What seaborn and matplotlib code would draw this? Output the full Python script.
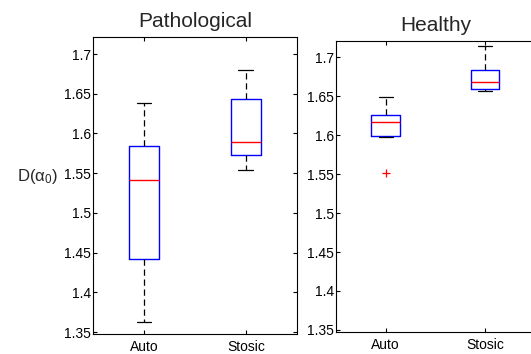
import matplotlib
matplotlib.use("Agg")
import matplotlib.pyplot as plt
import seaborn as sns
import pandas as pd

sns.set_theme(style="white")
plt.rcParams['font.family'] = ['Liberation Sans', 'DejaVu Sans']
plt.rcParams['mathtext.fontset'] = 'custom'
plt.rcParams['mathtext.rm'] = 'Liberation Sans'
plt.rcParams['mathtext.it'] = 'Liberation Sans:italic'

categories = ["Auto", "Stosic"]
panels = ["Pathological", "Healthy"]

# five-number summaries: low whisker, Q1, median, Q3, high whisker
path_auto = [1.3633, 1.4418, 1.5417, 1.5837, 1.6387]
path_stosic = [1.5539, 1.5728, 1.5892, 1.6437, 1.6798]
healthy_auto = [1.5973, 1.5995, 1.6175, 1.6264, 1.6495]
healthy_auto_outliers = [1.552]
healthy_stosic = [1.6564, 1.6589, 1.6683, 1.6833, 1.7141]

yticks = [1.35, 1.4, 1.45, 1.5, 1.55, 1.6, 1.65, 1.7]
ylim = (1.3477, 1.7214)


def sample(summary, outliers=()):
    lo, q1, med, q3, hi = summary
    if not outliers:
        return [lo, q1, med, q3, hi]
    # 9 sorted values -> indices 2, 4, 6 give Q1, median, Q3
    return list(outliers) + [lo, q1, q1, med, q3, q3, hi, hi]


rows = [("Auto", v) for v in sample(path_auto)]
rows += [("Stosic", v) for v in sample(path_stosic)]
df_path = pd.DataFrame(rows, columns=["method", "value"])

rows = [("Auto", v) for v in sample(healthy_auto, healthy_auto_outliers)]
rows += [("Stosic", v) for v in sample(healthy_stosic)]
df_healthy = pd.DataFrame(rows, columns=["method", "value"])

fig = plt.figure(figsize=(5.31, 3.54), dpi=100)
ax1 = fig.add_axes([0.175, 0.0565, 0.384, 0.839])
ax2 = fig.add_axes([0.633, 0.063, 0.374, 0.822])

box_kws = dict(
    x="method", y="value", order=categories, width=0.29, fill=False,
    linewidth=1.0,
    boxprops=dict(color="#0000ff", linewidth=1.0),
    medianprops=dict(color="#ff0000", linewidth=1.0),
    whiskerprops=dict(color="black", linestyle=(0, (5, 3)), linewidth=0.9),
    capprops=dict(color="black", linewidth=0.9),
    flierprops=dict(marker="+", markeredgecolor="#ff0000", markersize=6,
                    markeredgewidth=0.9),
)

for ax, df, title in [(ax1, df_path, panels[0]), (ax2, df_healthy, panels[1])]:
    sns.boxplot(data=df, ax=ax, **box_kws)
    ax.set_xlim(-0.5, 1.5)
    ax.set_ylim(*ylim)
    ax.set_yticks(yticks)
    ax.set_yticklabels([f"{t:g}" for t in yticks])
    ax.set_xlabel("")
    ax.set_ylabel("")
    ax.set_title(title, fontsize=15, pad=7)
    ax.tick_params(axis="both", direction="in", length=3, width=0.8,
                   labelsize=10, colors="black", top=True, right=True,
                   bottom=True, left=True)
    ax.tick_params(axis="y", pad=1.5)
    ax.tick_params(axis="x", pad=4.5)
    for s in ax.spines.values():
        s.set_visible(True)
        s.set_color("black")
        s.set_linewidth(0.8)

ax1.set_ylabel(r"D($\mathregular{\alpha_0}$)", fontsize=12, rotation=0,
               labelpad=19, va="center", y=0.53)

fig.savefig("out.png", dpi=100, facecolor="white")
